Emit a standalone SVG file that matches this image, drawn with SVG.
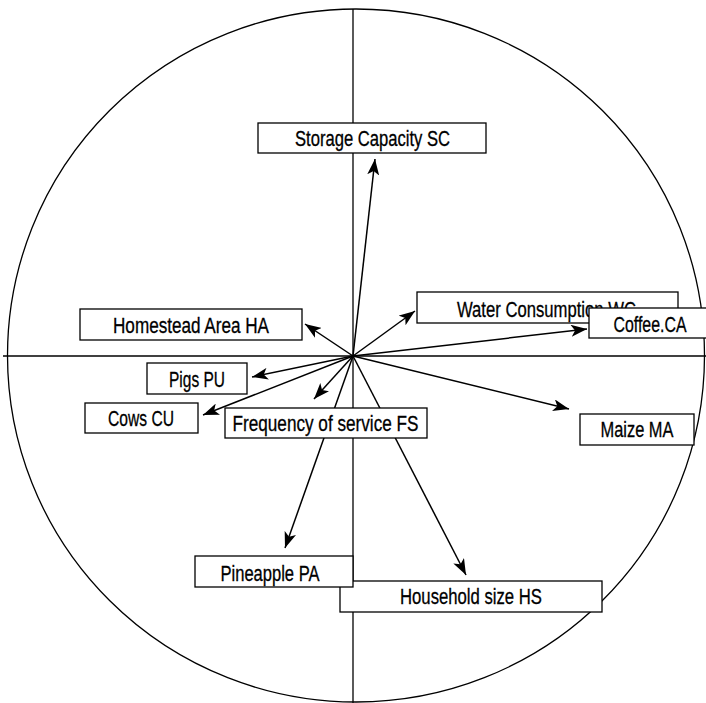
<svg xmlns="http://www.w3.org/2000/svg" width="706" height="703" viewBox="0 0 706 703">
<style>
.ax{stroke:#000;stroke-width:1.3;fill:none}
.ar{stroke:#000;stroke-width:1.5;fill:none;marker-end:url(#ah)}
.bx{fill:#fff;stroke:#000;stroke-width:1.3}
.lb{font-family:"Liberation Sans",Arial,sans-serif;font-size:22px;fill:#000;stroke:#000;stroke-width:0.3;text-anchor:middle}
</style>
<defs>
<marker id="ah" markerUnits="userSpaceOnUse" markerWidth="18" markerHeight="12" refX="16" refY="6" orient="auto">
<path d="M0,0 L16,6 L0,12 L4,6 z" fill="#000"/>
</marker>
</defs>
<rect width="706" height="703" fill="#fff"/>
<g id="axes">
<ellipse cx="356" cy="355.5" rx="348.5" ry="346.5" class="ax" stroke-width="1.6"/>
<line x1="353" y1="9" x2="353" y2="703" class="ax"/>
<line x1="3" y1="356" x2="706" y2="356" class="ax"/>
</g>
<g id="connectors">
<line x1="353" y1="356" x2="375" y2="159" class="ar"/>
<line x1="353" y1="356" x2="415" y2="311" class="ar"/>
<line x1="353" y1="356" x2="587" y2="329" class="ar"/>
<line x1="353" y1="356" x2="305" y2="324" class="ar"/>
<line x1="353" y1="356" x2="252" y2="377" class="ar"/>
<line x1="353" y1="356" x2="203" y2="415" class="ar"/>
<line x1="353" y1="356" x2="314" y2="399" class="ar"/>
<line x1="353" y1="356" x2="285" y2="548" class="ar"/>
<line x1="353" y1="356" x2="466" y2="575" class="ar"/>
<line x1="353" y1="356" x2="569" y2="409" class="ar"/>
</g>
<g id="sc"><rect x="258" y="123" width="228" height="30" class="bx"/><text x="372.5" y="146" class="lb" textLength="155" lengthAdjust="spacingAndGlyphs">Storage Capacity SC</text></g>
<g id="wc"><rect x="417" y="292" width="261" height="31" class="bx"/><text x="546.5" y="317" class="lb" textLength="179" lengthAdjust="spacingAndGlyphs">Water Consumption WC</text></g>
<g id="ca"><rect x="589" y="308" width="118" height="30" class="bx"/><text x="650" y="332" class="lb" textLength="73" lengthAdjust="spacingAndGlyphs">Coffee.CA</text></g>
<g id="ha"><rect x="80" y="309" width="222" height="31" class="bx"/><text x="191" y="333" class="lb" textLength="156" lengthAdjust="spacingAndGlyphs">Homestead Area HA</text></g>
<g id="pu"><rect x="147" y="363" width="100" height="31" class="bx"/><text x="197" y="387" class="lb" textLength="56" lengthAdjust="spacingAndGlyphs">Pigs PU</text></g>
<g id="cu"><rect x="85" y="403" width="113" height="30" class="bx"/><text x="141" y="426" class="lb" textLength="66" lengthAdjust="spacingAndGlyphs">Cows CU</text></g>
<g id="fs"><rect x="225" y="408" width="202" height="30" class="bx"/><text x="325.5" y="431" class="lb" textLength="186" lengthAdjust="spacingAndGlyphs">Frequency of service FS</text></g>
<g id="ma"><rect x="580" y="414" width="114" height="31" class="bx"/><text x="637" y="437" class="lb" textLength="73" lengthAdjust="spacingAndGlyphs">Maize MA</text></g>
<g id="hs"><rect x="340" y="581" width="262" height="31" class="bx"/><text x="471" y="604" class="lb" textLength="142" lengthAdjust="spacingAndGlyphs">Household size HS</text></g>
<g id="pa"><rect x="195" y="556" width="158" height="31" class="bx"/><text x="270" y="581" class="lb" textLength="99" lengthAdjust="spacingAndGlyphs">Pineapple PA</text></g>
</svg>
